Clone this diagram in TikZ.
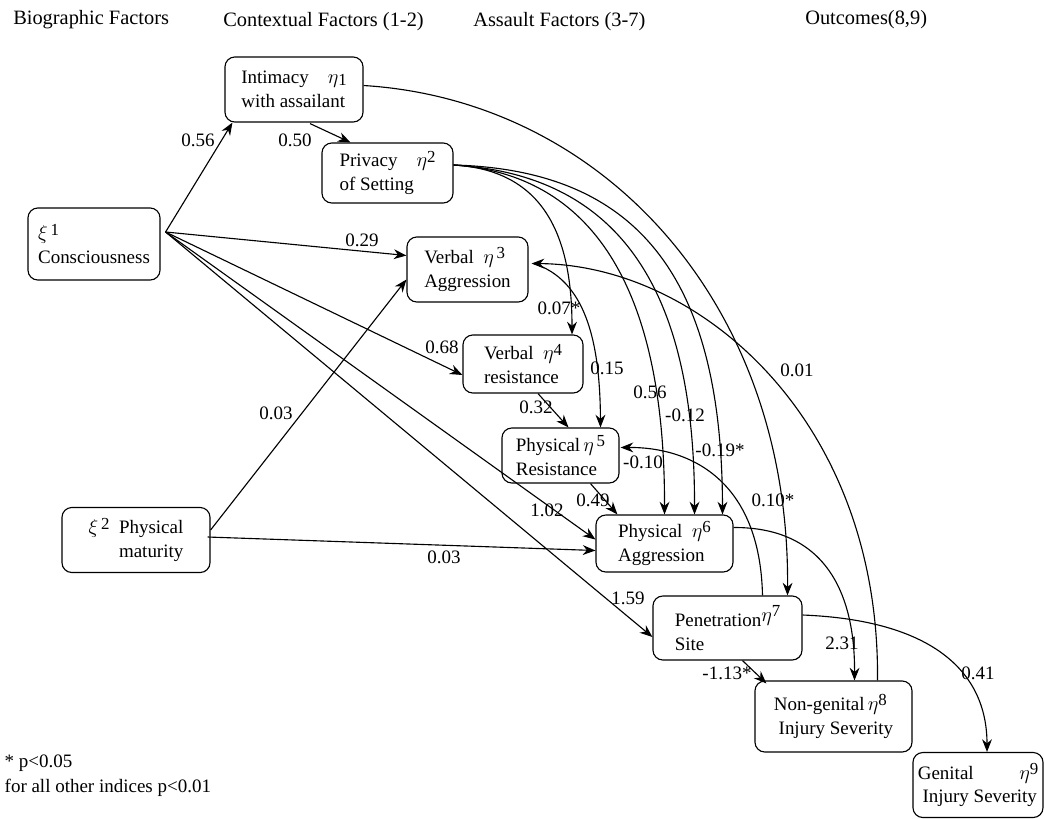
\documentclass[tikz,border=0pt]{standalone}
\usepackage{fontspec}
\setmainfont{Liberation Serif}
\usetikzlibrary{arrows.meta,calc}

\newcommand{\lvup}[2]{$#1$\raisebox{0.55ex}{\fontsize{12}{12}\selectfont #2}}
\newcommand{\lvdown}[2]{$#1$\raisebox{-0.25ex}{\fontsize{12}{12}\selectfont #2}}

\tikzset{
  factor/.style={draw, rounded corners=7pt, line width=0.8pt, align=left, font=\fontsize{13.5}{17}\selectfont},
  coef/.style={font=\fontsize{13.5}{16}\selectfont, inner sep=1pt},
  head/.style={font=\fontsize{14.5}{17}\selectfont, anchor=west, inner sep=0pt},
  link/.style={line width=0.8pt, -{Stealth[length=9pt,width=7pt]}},
}

\begin{document}
\begin{tikzpicture}[x=0.025cm, y=-0.025cm]
\useasboundingbox (0,0) rectangle (1044,818);

% column headings
\node[head] (hbio) at (13,20) {Biographic Factors};
\node[head] (hcon) at (223,22) {Contextual Factors (1-2)};
\node[head] (hass) at (473,22) {Assault Factors (3-7)};
\node[head] (hout) at (805,20) {Outcomes(8,9)};

% latent variables
\node[factor, minimum width=3.3cm, minimum height=1.8cm] (c1) at (94,244) {\lvup{\xi}{\,1}\\Consciousness};
\node[factor, minimum width=3.7cm, minimum height=1.625cm] (c2) at (136,540) {\lvup{\xi}{\,2}\enspace Physical\\\phantom{\lvup{\xi}{\,2}}\enspace maturity};

\node[factor, minimum width=3.45cm, minimum height=1.625cm] (e1) at (294,89.5) {Intimacy\quad\lvdown{\eta}{1}\\with assailant};
\node[factor, minimum width=3.275cm, minimum height=1.5cm] (e2) at (387.5,173) {Privacy\quad\lvup{\eta}{2}\\of Setting};
\node[factor, minimum width=3.025cm, minimum height=1.625cm] (e3) at (467.5,269.5) {Verbal\enspace\lvup{\eta}{\,3}\\Aggression};
\node[factor, minimum width=3.0cm, minimum height=1.45cm] (e4) at (523,364) {Verbal\enspace\lvup{\eta}{4}\\resistance};
\node[factor, minimum width=2.925cm, minimum height=1.375cm] (e5) at (560.5,455.5) {Physical\,\lvup{\eta}{\,5}\\Resistance};
\node[factor, minimum width=3.425cm, minimum height=1.425cm] (e6) at (664.5,543.5) {Physical\enspace\lvup{\eta}{6}\\Aggression};
\node[factor, minimum width=3.725cm, minimum height=1.6cm] (e7) at (727.5,628) {Penetration\raisebox{0.6ex}{\lvup{\eta}{7}}\\Site};
\node[factor, minimum width=3.925cm, minimum height=1.775cm] (e8) at (833.5,716.5) {Non-genital\,\lvup{\eta}{8}\\\ Injury Severity};
\node[factor, minimum width=3.25cm, minimum height=1.625cm] (e9) at (978,785) {Genital\hspace{2.4em}\lvup{\eta}{9}\\\ Injury Severity};

% straight paths
\coordinate (c1out) at ($(c1.east)+(5,-12)$);
\draw[link] (c1out) -- ($(e1.south west)+(8,0)$);
\draw[link] (c1out) -- ($(e3.west)+(0,-14)$);
\draw[link] (c1out) -- ($(e4.west)+(0,11)$);
\draw[link] (c1out) -- ($(e6.west)+(0,-4)$);
\draw[link] (c1out) -- ($(e7.west)+(0,9)$);
\draw[link] ($(c2.east)+(0,-10)$) -- ($(e3.west)+(0,10)$);
\draw[link] ($(c2.east)+(-3,-3)$) -- ($(e6.west)+(0,7)$);
\draw[link] ($(e1.south)+(16,1)$) -- ($(e2.north)+(-37,0)$);
\draw[link] ($(e4.south)+(15,0)$) -- ($(e5.north)+(8,0)$);
\draw[link] ($(e5.south)+(30,0)$) -- ($(e6.north west)+(22,0)$);
\draw[link] ($(e7.south)+(15,0)$) -- ($(e8.north west)+(12,3)$);

% curved paths
\draw[link] ($(e1.east)+(0,-4)$) .. controls (600,100) and (790,300) .. ($(e7.north)+(60,0)$);
\draw[link] ($(e8.north)+(44,0)$) .. controls (880,420) and (700,265) .. ($(e3.east)+(3,-6)$);
\draw[link] ($(e7.north)+(35,0)$) .. controls (760,480) and (690,447) .. ($(e5.east)+(1,-8)$);
\draw[link] ($(e6.east)+(0,-16)$) .. controls (830,527) and (855,600) .. ($(e8.north)+(21,0)$);
\draw[link] ($(e7.east)+(0,-13)$) .. controls (930,620) and (987,670) .. ($(e9.north)+(9,0)$);
\draw[link] ($(e2.east)+(0,-8)$) .. controls (540,170) and (572,230) .. ($(e4.north)+(49,0)$);
\draw[link] ($(e3.east)+(5,-6)$) .. controls (585,280) and (600,340) .. ($(e5.north)+(40,0)$);
\draw[link] ($(e2.east)+(0,-8)$) .. controls (600,175) and (665,300) .. (e6.north);
\draw[link] ($(e2.east)+(0,-8)$) .. controls (620,175) and (695,290) .. ($(e6.north)+(30,0)$);
\draw[link] ($(e2.east)+(0,-8)$) .. controls (640,170) and (722,280) .. ($(e6.north)+(58,0)$);

% coefficients
\node[coef] (k01) at (198,140) {0.56};
\node[coef] (k02) at (295,140) {0.50};
\node[coef] (k03) at (362,240) {0.29};
\node[coef] (k04) at (442,347) {0.68};
\node[coef] (k05) at (276,413) {0.03};
\node[coef] (k06) at (444,557) {0.03};
\node[coef] (k07) at (536,407) {0.32};
\node[coef] (k08) at (547,510) {1.02};
\node[coef] (k09) at (593,500) {0.49};
\node[coef] (k10) at (559,308) {0.07*};
\node[coef] (k11) at (607,368) {0.15};
\node[coef] (k12) at (650,392) {0.56};
\node[coef] (k13) at (685,415) {-0.12};
\node[coef] (k14) at (720,450) {-0.19*};
\node[coef] (k15) at (643,462) {-0.10};
\node[coef] (k16) at (797,370) {0.01};
\node[coef] (k17) at (773,500) {0.10*};
\node[coef] (k18) at (628,598) {1.59};
\node[coef] (k19) at (727,673) {-1.13*};
\node[coef] (k20) at (842,643) {2.31};
\node[coef] (k21) at (978,673) {0.41};

% significance note
\node[coef, anchor=west] (n1) at (3,763) {* p<0.05};
\node[coef, anchor=west] (n2) at (3,788) {for all other indices p<0.01};
\end{tikzpicture}
\end{document}
